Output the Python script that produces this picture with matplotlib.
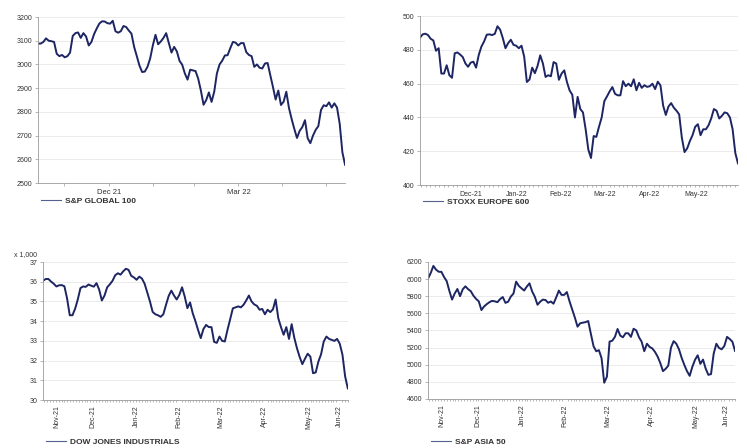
import matplotlib
matplotlib.use("Agg")
import matplotlib.pyplot as plt
import matplotlib.dates as mdates
import pandas as pd

# common period shown in all four panels
start_date = "2021-11-12"
end_date = "2022-06-13"

sp_global_100 = [
    3088, 3088, 3095, 3110, 3100, 3098, 3095, 3045, 3035, 3040, 3030, 3035,
    3050, 3120, 3132, 3135, 3112, 3132, 3118, 3080, 3095, 3128, 3152, 3173,
    3182, 3181, 3174, 3172, 3184, 3140, 3134, 3140, 3162, 3158, 3143, 3130,
    3074, 3035, 2995, 2968, 2970, 2990, 3025, 3080, 3125, 3085, 3097, 3112,
    3132, 3090, 3050, 3074, 3055, 3015, 2999, 2962, 2936, 2978, 2975, 2972,
    2940, 2890, 2830, 2850, 2882, 2842, 2885, 2962, 3000, 3016, 3038, 3039,
    3068, 3095, 3092, 3080, 3090, 3090, 3052, 3040, 3035, 2990, 3000, 2986,
    2983, 3004, 3006, 2955, 2905, 2852, 2890, 2829, 2843, 2885, 2816, 2770,
    2728, 2690, 2720, 2736, 2765, 2689, 2668, 2700, 2724, 2740, 2808, 2828,
    2824, 2840, 2818, 2836, 2818, 2750, 2630, 2577,
]

stoxx_europe_600 = [
    487.2, 489.2, 489.6, 488.8, 486.6, 485.6, 479.5, 481.0, 466.0, 466.0,
    470.9, 465.0, 463.5, 478.0, 478.5, 477.3, 475.8, 472.0, 470.0, 472.5,
    473.0, 469.5, 477.0, 482.0, 485.0, 489.0, 489.2, 488.8, 489.5, 494.0,
    492.0, 487.0, 481.0, 484.0, 486.0, 483.0, 482.5, 481.0, 482.5, 476.0,
    461.0, 462.5, 469.5, 466.2, 470.5, 476.8, 472.0, 464.0, 465.0, 464.4,
    472.8, 471.9, 462.3, 466.0, 467.9, 461.0, 456.0, 453.5, 440.0, 452.2,
    445.0, 443.0, 433.0, 421.0, 416.0, 429.0, 428.5, 434.5, 440.0, 449.7,
    452.5, 455.5, 458.0, 454.0, 453.1, 453.1, 461.5, 458.5, 460.0, 458.5,
    462.6, 456.1, 460.5, 457.5, 459.1, 458.1, 458.5, 460.0, 456.8, 461.2,
    459.0, 447.0, 441.5, 446.5, 448.5, 445.8, 444.0, 441.8, 428.0, 419.5,
    421.7, 426.0, 429.5, 434.5, 436.0, 429.5, 433.0, 433.0, 435.4, 439.5,
    445.0, 444.0, 439.4, 441.0, 443.0, 442.5, 440.0, 433.0, 419.0, 412.8,
]

# x 1,000
dow_jones = [
    36.05, 36.14, 36.14, 36.01, 35.90, 35.76, 35.82, 35.83, 35.77, 35.15,
    34.30, 34.30, 34.63, 35.10, 35.68, 35.76, 35.74, 35.86, 35.80, 35.75,
    35.93, 35.60, 35.05, 35.30, 35.72, 35.87, 36.05, 36.33, 36.43, 36.36,
    36.53, 36.66, 36.60, 36.30, 36.22, 36.10, 36.26, 36.16, 35.90, 35.45,
    35.00, 34.47, 34.35, 34.30, 34.22, 34.35, 34.83, 35.28, 35.55, 35.30,
    35.10, 35.34, 35.72, 35.25, 34.66, 34.95, 34.40, 34.00, 33.55, 33.14,
    33.60, 33.81, 33.70, 33.70, 32.95, 32.90, 33.22, 33.00, 32.97, 33.56,
    34.10, 34.65, 34.70, 34.75, 34.70, 34.83, 35.05, 35.30, 35.00, 34.85,
    34.78, 34.58, 34.62, 34.35, 34.58, 34.46, 34.60, 35.10, 34.15, 33.70,
    33.31, 33.70, 33.10, 33.85, 33.15, 32.62, 32.18, 31.82, 32.10, 32.35,
    32.20, 31.36, 31.40, 31.95, 32.32, 32.97, 33.22, 33.10, 33.05, 33.00,
    33.10, 32.85, 32.30, 31.20, 30.59,
]

sp_asia_50 = [
    6006, 6070, 6153, 6110, 6085, 6084, 6024, 5975, 5860, 5760, 5832, 5884,
    5800, 5880, 5915, 5882, 5859, 5806, 5768, 5740, 5638, 5680, 5707, 5730,
    5745, 5740, 5730, 5766, 5790, 5722, 5735, 5795, 5830, 5970, 5920, 5892,
    5866, 5912, 5950, 5855, 5793, 5700, 5735, 5760, 5755, 5723, 5738, 5712,
    5785, 5865, 5815, 5815, 5848, 5740, 5645, 5550, 5444, 5484, 5491, 5497,
    5510, 5360, 5215, 5157, 5170, 5076, 4790, 4860, 5270, 5280, 5325, 5417,
    5340, 5320, 5367, 5367, 5325, 5420, 5400, 5322, 5269, 5158, 5245, 5208,
    5190, 5150, 5095, 5020, 4925, 4952, 4990, 5200, 5275, 5245, 5180, 5080,
    4998, 4925, 4870, 4975, 5057, 5110, 5010, 5060, 4955, 4882, 4890, 5130,
    5245, 5195, 5180, 5220, 5325, 5300, 5269, 5161,
]

LINE = "#1d2563"
GRID = "#e8e8e8"
SPINE = "#9a9a9a"
TEXT = "#333333"

plt.rcParams["font.family"] = ["Liberation Sans", "DejaVu Sans"]

fig = plt.figure(figsize=(7.47, 4.48), dpi=100)
fig.patch.set_facecolor("white")


def month_centres(t0, t1):
    """centre of the visible part of every month between t0 and t1"""
    out = []
    edges = [t0] + list(pd.date_range(t0, t1, freq="MS")) + [t1]
    for a, b in zip(edges[:-1], edges[1:]):
        if b > a:
            out.append(a + (b - a) / 2)
    return out


def draw_panel(rect, values, label, ylim, yticks, ylabels):
    t0, t1 = pd.Timestamp(start_date), pd.Timestamp(end_date)
    dates = pd.date_range(t0, t1, periods=len(values))
    ax = fig.add_axes(rect)
    ax.plot(dates, values, color=LINE, lw=1.4, label=label)
    ax.set_xlim(t0, t1)
    ax.set_ylim(*ylim)
    ax.set_yticks(yticks)
    ax.set_yticklabels(ylabels)
    ax.grid(axis="y", color=GRID, lw=0.6)
    ax.set_axisbelow(True)
    for s in ("top", "right"):
        ax.spines[s].set_visible(False)
    for s in ("left", "bottom"):
        ax.spines[s].set_color(SPINE)
        ax.spines[s].set_linewidth(0.6)
    ax.tick_params(axis="y", labelsize=5, colors=TEXT, length=2, width=0.5,
                   pad=2)
    ax.tick_params(axis="y", color=SPINE)
    return ax, t0, t1


# --- S&P Global 100 -------------------------------------------------------
ax1, t0, t1 = draw_panel([0.0509, 0.5915, 0.411, 0.3705], sp_global_100,
                         "S&P GLOBAL 100", (2500, 3200),
                         range(2500, 3201, 100),
                         [str(v) for v in range(2500, 3201, 100)])
month_ends = pd.date_range(t0, t1, freq="ME")
ax1.set_xticks(month_ends, minor=True)
ax1.set_xticks([pd.Timestamp("2021-12-31"), pd.Timestamp("2022-03-31")])
ax1.set_xticklabels(["Dec 21", "Mar 22"])
ax1.tick_params(axis="x", which="both", length=2, width=0.5, color=SPINE,
                labelsize=5.5, labelcolor=TEXT, pad=2)

# --- STOXX Europe 600 -----------------------------------------------------
ax2, t0, t1 = draw_panel([0.5622, 0.587, 0.4257, 0.377], stoxx_europe_600,
                         "STOXX EUROPE 600", (400, 500),
                         range(400, 501, 20),
                         [str(v) for v in range(400, 501, 20)])
ax2.xaxis.set_minor_locator(mdates.DayLocator(interval=3))
mids = [pd.Timestamp(d) for d in ("2021-12-16", "2022-01-16", "2022-02-14",
                                  "2022-03-16", "2022-04-15", "2022-05-16")]
ax2.set_xticks(mids)
ax2.set_xticklabels(["Dec-21", "Jan-22", "Feb-22", "Mar-22", "Apr-22",
                     "May-22"])
ax2.tick_params(axis="x", which="major", length=0, labelsize=5,
                labelcolor=TEXT, pad=4)
ax2.tick_params(axis="x", which="minor", length=1.5, width=0.5, color=SPINE)

# --- Dow Jones Industrials ------------------------------------------------
ax3, t0, t1 = draw_panel([0.0576, 0.1071, 0.408, 0.308], dow_jones,
                         "DOW JONES INDUSTRIALS", (30, 37),
                         range(30, 38), [str(v) for v in range(30, 38)])
ax3.text(-0.095, 1.03, "x 1,000", transform=ax3.transAxes, fontsize=5,
         color=TEXT, va="bottom", ha="left")

# --- S&P Asia 50 ----------------------------------------------------------
ax4, t0, t1 = draw_panel([0.573, 0.1094, 0.411, 0.306], sp_asia_50,
                         "S&P ASIA 50", (4600, 6200),
                         range(4600, 6201, 200),
                         [str(v) for v in range(4600, 6201, 200)])

for ax in (ax3, ax4):
    ax.xaxis.set_minor_locator(mdates.DayLocator(interval=2))
    ax.set_xticks(month_centres(t0, t1))
    ax.set_xticklabels([d.strftime("%b-%y") for d in month_centres(t0, t1)],
                       rotation=90)
    ax.tick_params(axis="x", which="major", length=0, labelsize=5,
                   labelcolor=TEXT, pad=4)
    ax.tick_params(axis="x", which="minor", length=1.5, width=0.5,
                   color=SPINE)

# legends sit under each panel
for ax, y in ((ax1, -0.065), (ax2, -0.06), (ax3, -0.25), (ax4, -0.26)):
    leg = ax.legend(loc="upper left", bbox_to_anchor=(0.0, y), frameon=False,
                    handlelength=2.4, handletextpad=0.4, borderaxespad=0,
                    prop={"size": 6, "weight": "bold"})
    for t in leg.get_texts():
        t.set_color(TEXT)
    for h in leg.get_lines():
        h.set_color("#55608f")
        h.set_linewidth(0.8)

fig.savefig("out.png", dpi=100, facecolor="white")
